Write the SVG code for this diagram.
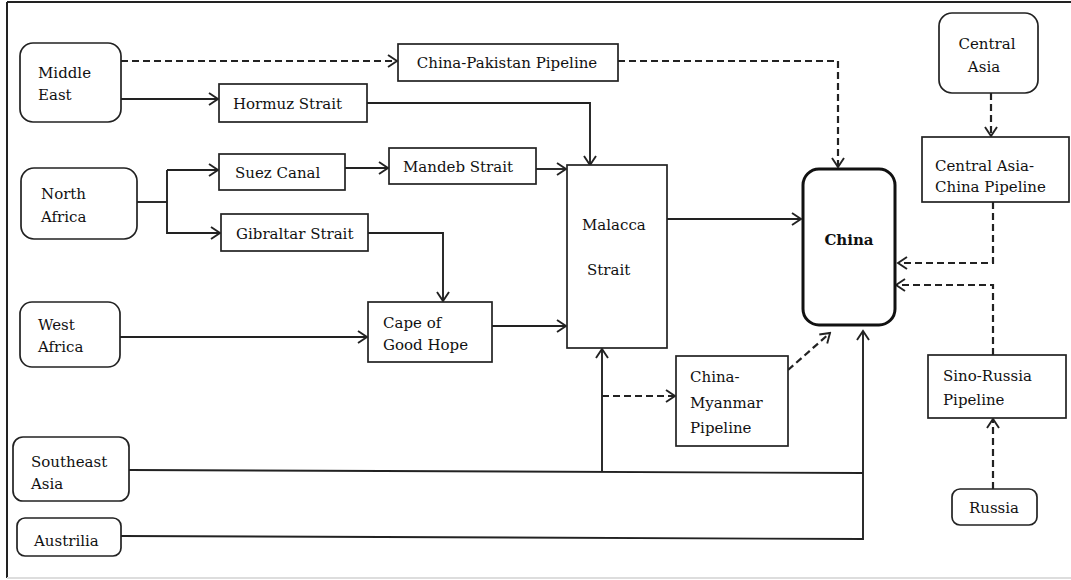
<svg xmlns="http://www.w3.org/2000/svg" width="1071" height="580" viewBox="0 0 1071 580">
<style>
.box{fill:#fff;stroke:#222;stroke-width:1.7}
.rbox{fill:#fff;stroke:#222;stroke-width:1.7}
.china{fill:#fff;stroke:#111;stroke-width:3}
text{font-family:"DejaVu Serif","Liberation Serif",serif;font-size:15px;fill:#111}
.c{text-anchor:middle}
.b{font-weight:bold}
.ln{fill:none;stroke:#222;stroke-width:1.9}
.ds{fill:none;stroke:#222;stroke-width:2.2;stroke-dasharray:7 4}
</style>
<defs>
<marker id="ah" viewBox="-10 -7 12 14" refX="0" refY="0" markerWidth="12" markerHeight="14" markerUnits="userSpaceOnUse" orient="auto">
<path d="M-9,-6 L0,0 L-9,6" fill="none" stroke="#222" stroke-width="1.9"/>
</marker>
</defs>
<rect x="0" y="0" width="1071" height="580" fill="#fff"/>
<g id="frame">
<line x1="7" y1="2" x2="1071" y2="2" stroke="#222" stroke-width="2"/>
<line x1="7" y1="2" x2="7" y2="578" stroke="#222" stroke-width="2"/>
<line x1="7" y1="578" x2="1071" y2="578" stroke="#ddd" stroke-width="2"/>
</g>
<g id="connectors">
<path class="ds" d="M121,61 H397" marker-end="url(#ah)"/>
<path class="ds" d="M618,61 H838 V167" marker-end="url(#ah)"/>
<path class="ln" d="M121,99 H218" marker-end="url(#ah)"/>
<path class="ln" d="M367,103 H590 V165" marker-end="url(#ah)"/>
<path class="ln" d="M137,202 H167"/>
<path class="ln" d="M167,170 V233 H220" marker-end="url(#ah)"/>
<path class="ln" d="M167,170 H218" marker-end="url(#ah)"/>
<path class="ln" d="M345,168 H388" marker-end="url(#ah)"/>
<path class="ln" d="M536,169 H566" marker-end="url(#ah)"/>
<path class="ln" d="M368,233 H443 V301" marker-end="url(#ah)"/>
<path class="ln" d="M120,337 H367" marker-end="url(#ah)"/>
<path class="ln" d="M492,326 H566" marker-end="url(#ah)"/>
<path class="ln" d="M667,219 H801" marker-end="url(#ah)"/>
<path class="ln" d="M129,470 L863,473"/>
<path class="ln" d="M121,536 L863,539 V331" marker-end="url(#ah)"/>
<path class="ln" d="M602,472 V349" marker-end="url(#ah)"/>
<path class="ds" d="M602,396 H675" marker-end="url(#ah)"/>
<path class="ds" d="M788,370 L830,333" marker-end="url(#ah)"/>
<path class="ds" d="M991,93 V136" marker-end="url(#ah)"/>
<path class="ds" d="M993,202 V263 H898" marker-end="url(#ah)"/>
<path class="ds" d="M993,355 V285 H896" marker-end="url(#ah)"/>
<path class="ds" d="M993,489 V419" marker-end="url(#ah)"/>
</g>
<g id="middle-east"><rect class="rbox" x="20" y="43" width="101" height="79" rx="13"/><text x="38" y="78">Middle</text><text x="38" y="100">East</text></g>
<g id="north-africa"><rect class="rbox" x="21" y="168" width="116" height="71" rx="13"/><text x="41" y="199">North</text><text x="41" y="222">Africa</text></g>
<g id="west-africa"><rect class="rbox" x="20" y="302" width="100" height="65" rx="12"/><text x="38" y="330">West</text><text x="38" y="352">Africa</text></g>
<g id="southeast-asia"><rect class="rbox" x="13" y="437" width="116" height="64" rx="10"/><text x="31" y="467">Southeast</text><text x="31" y="489">Asia</text></g>
<g id="austrilia"><rect class="rbox" x="17" y="518" width="104" height="38" rx="8"/><text x="34" y="546">Austrilia</text></g>
<g id="china-pakistan"><rect class="box" x="398" y="44" width="220" height="37"/><text x="507" y="68" class="c">China-Pakistan Pipeline</text></g>
<g id="hormuz"><rect class="box" x="219" y="84" width="148" height="38"/><text x="233" y="109">Hormuz Strait</text></g>
<g id="suez"><rect class="box" x="219" y="154" width="126" height="36"/><text x="235" y="178">Suez Canal</text></g>
<g id="gibraltar"><rect class="box" x="221" y="214" width="147" height="37"/><text x="236" y="239">Gibraltar Strait</text></g>
<g id="mandeb"><rect class="box" x="389" y="148" width="147" height="36"/><text x="403" y="172">Mandeb Strait</text></g>
<g id="malacca"><rect class="box" x="567" y="165" width="100" height="183"/><text x="582" y="230">Malacca</text><text x="587" y="275">Strait</text></g>
<g id="cape"><rect class="box" x="368" y="302" width="124" height="60"/><text x="383" y="328">Cape of</text><text x="383" y="350">Good Hope</text></g>
<g id="china-myanmar"><rect class="box" x="676" y="356" width="112" height="90"/><text x="690" y="382">China-</text><text x="690" y="408">Myanmar</text><text x="690" y="433">Pipeline</text></g>
<g id="china"><rect class="china" x="803" y="169" width="92" height="156" rx="16"/><text x="849" y="245" class="c b">China</text></g>
<g id="central-asia"><rect class="rbox" x="939" y="13" width="99" height="80" rx="13"/><text x="987" y="49" class="c">Central</text><text x="984" y="72" class="c">Asia</text></g>
<g id="central-asia-pipeline"><rect class="box" x="922" y="137" width="147" height="65"/><text x="935" y="171">Central Asia-</text><text x="935" y="192">China Pipeline</text></g>
<g id="sino-russia"><rect class="box" x="928" y="355" width="138" height="63"/><text x="943" y="381">Sino-Russia</text><text x="943" y="405">Pipeline</text></g>
<g id="russia"><rect class="rbox" x="952" y="489" width="85" height="36" rx="8"/><text x="994" y="513" class="c">Russia</text></g>
</svg>
